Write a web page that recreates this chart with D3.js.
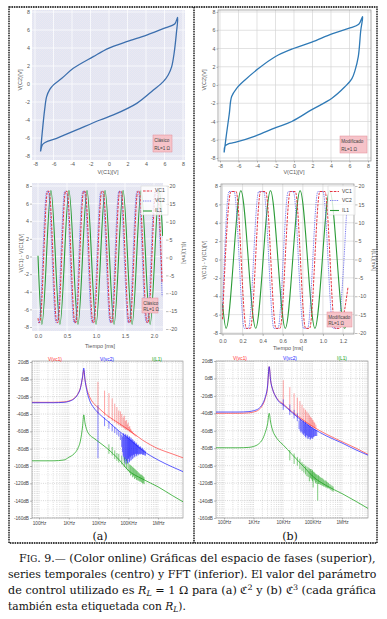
<!DOCTYPE html>
<html><head><meta charset="utf-8">
<script src="https://cdn.jsdelivr.net/npm/d3@7"></script>
<style>html,body{margin:0;padding:0;background:#fff}svg{display:block}</style>
</head><body>
<svg id="c" width="387" height="619"></svg>
<script>
// ================= DATA =================
const phaseTicks = [-8,-6,-4,-2,0,2,4,6,8];
const currTicks = [-20,-15,-10,-5,0,5,10,15,20];
const timeTicksA = [0,0.5,1.0,1.5,2.0];
const timeTicksB = [0,0.2,0.4,0.6,0.8,1.0,1.2];
const dbTicks = [20,0,-20,-40,-60,-80,-100,-120,-140,-160];
const dbMinor = [10,-10,-30,-50,-70,-90,-110,-130,-150];
const freqTicks = [100,1000,10000,100000,1000000];
const freqLabels = ['100Hz','1KHz','10KHz','100KHz','1MHz'];
const fftSeriesNames = ['V(vc1)','V(vc2)','I(L1)'];
const tsSeriesNames = ['VC1','VC2','IL1'];

// phase space (a) Clásico : V(C1) on x, V(C2) on y
const phaseA_vc1 = [-7.4,-7.2,-6.95,-6.74,-6.4,-6.0,-5.1,-3.86,-1.7,-0.07,1.9,4.07,6.0,7.1,7.42,7.28,7.05,6.77,6.4,5.87,4.8,3.0,0.47,-0.97,-3.5,-5.66,-6.9,-7.2,-7.4];
const phaseA_vc2 = [-7.5,-5.2,-2.8,-1.4,-0.6,-0.1,0.63,1.74,3.04,3.96,4.7,5.44,6.2,6.67,7.4,5.6,3.5,1.9,1.0,0.26,-0.67,-2.15,-3.44,-4.0,-5.1,-6.04,-6.5,-6.75,-7.5];
// phase space (b) Modificado
const phaseB_vc1 = [-7.55,-7.3,-7.0,-6.74,-6.2,-5.3,-3.85,-2.04,-0.06,1.93,4.1,5.9,7.0,7.42,7.22,6.95,6.6,6.26,5.5,4.1,1.93,-0.24,-2.04,-4.2,-6.38,-7.1,-7.46,-7.55];
const phaseB_vc2 = [-7.4,-5.4,-3.2,-1.27,-0.36,0.55,1.8,3.1,4.0,4.7,5.6,6.2,6.65,7.5,6.0,3.1,1.6,0.7,-0.2,-1.45,-2.7,-4.0,-4.7,-5.6,-6.3,-6.45,-6.7,-7.4];

// time series (a): time [ms], volts / mA
const tsA_vc1_t = [0,0.015,0.03,0.166,0.19,0.326,0.341,0.477,0.501,0.637,0.652,0.788,0.812,0.948,0.963,1.099,1.123,1.259,1.274,1.41,1.434,1.57,1.585,1.721,1.745,1.881,1.896,2.032,2.056,2.14];
const tsA_vc1_v = [-7.0,-7.5,-7.5,7.4,7.4,-7.5,-7.5,7.4,7.4,-7.5,-7.5,7.4,7.4,-7.5,-7.5,7.4,7.4,-7.5,-7.5,7.4,7.4,-7.5,-7.5,7.4,7.4,-7.5,-7.5,7.4,7.4,-3.0];
const tsA_vc2_t = [0,0.015,0.151,0.175,0.311,0.326,0.462,0.486,0.622,0.637,0.773,0.797,0.933,0.948,1.084,1.108,1.244,1.259,1.395,1.419,1.555,1.57,1.706,1.73,1.866,1.881,2.017,2.041,2.14];
const tsA_vc2_v = [-7.5,-7.5,7.4,7.4,-7.5,-7.5,7.4,7.4,-7.5,-7.5,7.4,7.4,-7.5,-7.5,7.4,7.4,-7.5,-7.5,7.4,7.4,-7.5,-7.5,7.4,7.4,-7.5,-7.5,7.4,7.4,-4.5];
const tsA_il_t = [0,0.0675,0.223,0.3785,0.534,0.6895,0.845,1.0005,1.156,1.3115,1.467,1.6225,1.778,1.9335,2.089,2.15];
const tsA_il_v = [0.5,-18.7,18.7,-18.7,18.7,-18.7,18.7,-18.7,18.7,-18.7,18.7,-18.7,18.7,-18.7,18.7,6];
// time series (b)
const tsB_vc1_t = [0,0.085,0.135,0.2375,0.2775,0.38,0.43,0.5325,0.5725,0.675,0.725,0.8275,0.8675,0.97,1.02,1.1225,1.1625,1.25];
const tsB_vc1_v = [-6.5,7.4,7.4,-7.5,-7.5,7.4,7.4,-7.5,-7.5,7.4,7.4,-7.5,-7.5,7.4,7.4,-7.5,-7.5,-3.0];
const tsB_vc2_t = [0,0.065,0.115,0.2175,0.2575,0.36,0.41,0.5125,0.5525,0.655,0.705,0.8075,0.8475,0.95,1.0,1.1025,1.1425,1.235];
const tsB_vc2_v = [-5.5,7.4,7.4,-7.5,-7.5,7.4,7.4,-7.5,-7.5,7.4,7.4,-7.5,-7.5,7.4,7.4,-7.5,-7.5,5.0];
const tsB_il_t = [0,0.0355,0.183,0.3305,0.478,0.6255,0.773,0.9205,1.068,1.2155,1.25];
const tsB_il_v = [-12,-18.7,18.7,-18.7,18.7,-18.7,18.7,-18.7,18.7,-18.7,-16];

// FFT (a): frequency [Hz], level [dB]
const fftA_f = [55,300,700,1000,1500,2000,2500,2900,3200,3500,4000,5000,7000,10000,20000,50000,100000,300000,1000000,3000000,7500000];
const fftA_vc1 = [-26.5,-26.5,-26,-25,-22,-17,-9,2,10.5,0,-10,-20,-28,-33,-42,-51,-58,-70,-80,-86,-91];
const fftA_vc2 = [-27,-27,-26.5,-25.5,-22.5,-17.5,-9.5,3,13,0,-12,-24,-33,-39,-48,-60,-68,-82,-93,-101,-107];
const fftA_il  = [-94,-94,-93,-90,-86,-80,-70,-55,-41,-50,-58,-64,-68,-72,-80,-93,-105,-115,-124,-134,-142];
const spkA_vc1_f   = [9600,16000,22400,28800,35200,41600,48000,54400,60800,67200,73600,80000,86400,92800,99200,105600,112000,118400,124800,131200,140000,150000,165000,180000];
const spkA_vc1_top = [-3,-13,-16,-22,-28,-32,-36,-37,-40,-44,-42,-48,-47,-52,-50,-55,-54,-57,-58,-60,-60,-62,-63,-64];
const spkA_vc1_bot = [-40,-42,-45,-48,-50,-52,-53,-54,-55,-56,-57,-58,-58,-59,-59,-60,-61,-61,-62,-62,-63,-64,-65,-66];
const spkA_vc2_f   = [9600,16000,22400,28800,35200,41600,48000,54400,60000,64000,67000,70000,73000,76000,80000,83000,86000,90000,93000,96000,100000,103000,107000,110000,114000,118000,122000,126000,130000,135000,140000,145000,150000,155000,160000,166000,172000,178000,184000,190000,197000,205000,212000,220000,230000,240000,250000,260000,272000,285000,297000,310000,325000,340000,360000,380000];
const spkA_vc2_top = [-30,-44,-48,-52,-55,-58,-60,-62,-64,-66,-63,-62,-65,-66,-63,-64,-66,-67,-64,-65,-67,-68,-66,-66,-69,-70,-67,-68,-70,-72,-69,-70,-72,-73,-71,-72,-74,-75,-73,-74,-76,-76,-75,-76,-78,-78,-77,-78,-79,-80,-79,-80,-81,-82,-82,-83];
const spkA_vc2_bot = [-91,-54,-57,-60,-62,-64,-66,-70,-78,-84,-88,-90,-93,-96,-92,-98,-94,-94,-97,-97,-91,-92,-96,-95,-89,-90,-94,-93,-88,-88,-92,-91,-87,-87,-90,-89,-86,-86,-89,-88,-86,-86,-88,-87,-86,-86,-87,-86,-86,-86,-87,-87,-87,-87,-88,-88];
const spkA_il_f   = [22400,28800,35200,41600,48000,60800,73600,86400,99200,112000,120000,130000,140000,150000,162000,175000,188000,200000,215000,230000,245000,260000,280000,300000,320000,340000];
const spkA_il_top = [-75,-78,-82,-85,-86,-88,-90,-92,-96,-98,-99,-100,-101,-102,-103,-104,-105,-106,-107,-108,-109,-110,-110,-111,-112,-113];
const spkA_il_bot = [-86,-88,-92,-94,-96,-98,-101,-103,-106,-108,-111,-110,-113,-112,-115,-114,-116,-116,-117,-117,-118,-118,-119,-120,-120,-121];
// FFT (b)
const fftB_f = [50,300,700,1000,1500,2000,2500,3000,3400,3800,4500,5500,7000,10000,20000,50000,100000,300000,1000000,3000000,7600000];
const fftB_vc1 = [-40,-40,-39.5,-38.5,-36,-31,-23,-10,13.5,-2,-13,-20,-25,-29,-38,-48,-55,-64,-72.5,-80,-87];
const fftB_vc2 = [-38.5,-38.5,-38,-37,-34.5,-29.5,-21.5,-8.5,13.5,-2,-13,-20,-26,-30,-39,-50,-57,-66,-74,-82,-88];
const fftB_il  = [-79.5,-79.5,-79,-78,-75,-70,-62,-52,-40,-50,-60,-66,-71,-76,-87,-101,-112,-123,-132,-141,-149];
const spkB_vc1_f   = [10200,17000,23800,30600,37400,44200,51000,57800,64600,71400,78200,85000,91800,98600,105400,112200,119000,130000];
const spkB_vc1_top = [-2,-10,-17,-22,-26,-30,-34,-36,-38,-40,-42,-44,-45,-47,-48,-50,-51,-53];
const spkB_vc1_bot = [-32,-38,-42,-45,-47,-49,-50,-51,-52,-53,-54,-55,-55,-56,-56,-57,-57,-58];
const spkB_vc2_f   = [10200,17000,23800,30600,35000,38000,40000,43000,45000,48000,50000,53000,55000,58000,60000,63000,66000,69000,72000,75000,79000,82000,86000,90000,94000,98000,103000,108000,113000,119000,125000,132000,140000];
const spkB_vc2_top = [-24,-30,-36,-40,-48,-46,-47,-49,-50,-48,-49,-51,-52,-50,-51,-53,-54,-52,-53,-54,-55,-54,-55,-56,-57,-56,-57,-58,-58,-58,-59,-59,-60];
const spkB_vc2_bot = [-36,-42,-46,-49,-58,-60,-62,-61,-63,-64,-65,-63,-66,-67,-68,-65,-66,-69,-69,-67,-67,-70,-70,-68,-68,-69,-69,-67,-67,-66,-66,-66,-66];
const spkB_il_f   = [17000,23800,30600,37400,44200,51000,57800,64600,71400,78200,85000,90000,95000,100000,105000,111000,118000,125000,132000,140000,150000,160000,170000,182000,195000,210000,225000,240000,260000,280000,300000,325000,350000,385000,420000,460000,500000];
const spkB_il_top = [-82,-86,-90,-92,-96,-98,-100,-101,-102,-103,-104,-104,-106,-105,-107,-107,-108,-109,-110,-110,-111,-111,-112,-113,-114,-114,-115,-116,-117,-117,-118,-119,-120,-121,-122,-123,-124];
const spkB_il_bot = [-94,-98,-100,-104,-106,-108,-110,-112,-113,-118,-114,-115,-116,-118,-125,-116,-117,-120,-119,-121,-140,-121,-121,-122,-122,-123,-123,-124,-124,-125,-125,-126,-126,-127,-128,-129,-130];

// ================= DRAWING =================
const SANS = "'Liberation Sans', Arial, sans-serif";
const SERIF = "'DejaVu Serif', 'Liberation Serif', serif";
const svg = d3.select('#c');
const defs = svg.append('defs');
const pat = defs.append('pattern').attr('id','hatch').attr('width',2).attr('height',2).attr('patternUnits','userSpaceOnUse');
pat.append('rect').attr('width',2).attr('height',2).attr('fill','#dfe6f4');
pat.append('rect').attr('width',1).attr('height',1).attr('fill','#ece7f0');
pat.append('rect').attr('x',1).attr('y',1).attr('width',1).attr('height',1).attr('fill','#ece7f0');

let clipN = 0;
function clip(box) {
  const id = 'clip' + (clipN++);
  defs.append('clipPath').attr('id', id).append('rect')
    .attr('x', box[0]).attr('y', box[1]).attr('width', box[2]-box[0]).attr('height', box[3]-box[1]);
  return 'url(#' + id + ')';
}
function axisStyle(sel, fs, col) {
  sel.attr('font-family', SANS).attr('font-size', fs);
  sel.select('.domain').remove();
  sel.selectAll('.tick line').attr('stroke', '#777').attr('stroke-width', 0.5);
  sel.selectAll('.tick text').attr('fill', col || '#555');
}
function label(g, x, y, txt, rot, fs, col) {
  g.append('text').attr('transform', `translate(${x},${y}) rotate(${rot||0})`)
    .attr('text-anchor','middle').attr('dominant-baseline','middle')
    .attr('font-family', SANS).attr('font-size', fs||5.5).attr('fill', col||'#555').text(txt);
}
function tagBox(g, b) {
  g.append('rect').attr('x',b[0]).attr('y',b[1]).attr('width',b[2]-b[0]).attr('height',b[3]-b[1])
    .attr('fill','#f6c3c9').attr('stroke','#e38d98').attr('stroke-width',0.5);
  const h = b[3]-b[1];
  g.append('text').attr('x',b[0]+1.2).attr('y',b[1]+h*0.44).attr('font-family',SANS).attr('font-size',4.6).attr('fill','#444').text(b[4]);
  g.append('text').attr('x',b[0]+1.2).attr('y',b[1]+h*0.86).attr('font-family',SANS).attr('font-size',4.6).attr('fill','#444').text('RL=1 Ω');
}

function phasePanel(o) {
  const g = svg.append('g');
  const [bx0,by0,bx1,by1] = o.box;
  const x = d3.scaleLinear().domain([-8,8]).range(o.xr);
  const y = d3.scaleLinear().domain([-8,8]).range(o.yr);
  g.append('rect').attr('x',bx0).attr('y',by0).attr('width',bx1-bx0).attr('height',by1-by0)
    .attr('fill', o.hatch ? 'url(#hatch)' : '#fff');
  const gc = o.hatch ? '#ffffff' : '#d6d6d6';
  g.append('g').selectAll('line').data(phaseTicks).join('line')
    .attr('x1',d=>x(d)).attr('x2',d=>x(d)).attr('y1',by0).attr('y2',by1).attr('stroke',gc).attr('stroke-width',0.7);
  g.append('g').selectAll('line').data(phaseTicks).join('line')
    .attr('y1',d=>y(d)).attr('y2',d=>y(d)).attr('x1',bx0).attr('x2',bx1).attr('stroke',gc).attr('stroke-width',0.7);
  if (!o.hatch) g.append('rect').attr('x',bx0).attr('y',by0).attr('width',bx1-bx0).attr('height',by1-by0)
    .attr('fill','none').attr('stroke','#8a8a8a').attr('stroke-width',0.7);
  const ay = g.append('g').attr('transform',`translate(${bx0},0)`)
    .call(d3.axisLeft(y).tickValues(phaseTicks).tickFormat(d=>String(d)).tickSize(o.tick).tickPadding(o.pad));
  axisStyle(ay, 5.3);
  const axb = g.append('g').attr('transform',`translate(0,${by1})`)
    .call(d3.axisBottom(x).tickValues(phaseTicks).tickFormat(d=>String(d)).tickSize(o.tick).tickPadding(o.padB));
  axisStyle(axb, 5.3);
  g.append('path').attr('clip-path', clip(o.box))
    .attr('d', d3.line().x(d=>x(d[0])).y(d=>y(d[1])).curve(d3.curveCatmullRom.alpha(0.5))(d3.zip(o.vc1,o.vc2)))
    .attr('fill','none').attr('stroke',o.color).attr('stroke-width',1.3);
  label(g, o.ylab[0], o.ylab[1], 'V(C2)[V]', -90, 5.5);
  label(g, o.xlab[0], o.xlab[1], 'V(C1)[V]', 0, 5.5);
  tagBox(g, o.tag);
}

function timePanel(o) {
  const g = svg.append('g');
  const [bx0,by0,bx1,by1] = o.box;
  const x = d3.scaleLinear().domain([0, o.xt[o.xt.length-1]]).range(o.xr);
  const yl = d3.scaleLinear().domain([-8,8]).range(o.ylr);
  const yr = d3.scaleLinear().domain([-20,20]).range(o.yrr);
  g.append('rect').attr('x',bx0).attr('y',by0).attr('width',bx1-bx0).attr('height',by1-by0)
    .attr('fill', o.hatch ? 'url(#hatch)' : '#fff');
  const gc = o.hatch ? '#ffffff' : '#d6d6d6';
  g.append('g').selectAll('line').data(o.xt).join('line')
    .attr('x1',d=>x(d)).attr('x2',d=>x(d)).attr('y1',by0).attr('y2',by1).attr('stroke',gc).attr('stroke-width',0.7);
  g.append('g').selectAll('line').data(phaseTicks).join('line')
    .attr('y1',d=>yl(d)).attr('y2',d=>yl(d)).attr('x1',bx0).attr('x2',bx1).attr('stroke',gc).attr('stroke-width',0.7);
  if (!o.hatch) g.append('rect').attr('x',bx0).attr('y',by0).attr('width',bx1-bx0).attr('height',by1-by0)
    .attr('fill','none').attr('stroke','#8a8a8a').attr('stroke-width',0.7);
  const al = g.append('g').attr('transform',`translate(${bx0},0)`)
    .call(d3.axisLeft(yl).tickValues(phaseTicks).tickFormat(d=>String(d)).tickSize(2).tickPadding(1));
  axisStyle(al, 5.3);
  const ar = g.append('g').attr('transform',`translate(${o.rAxisX},0)`)
    .call(d3.axisRight(yr).tickValues(currTicks).tickFormat(d=>String(d)).tickSize(2.5).tickPadding(1));
  axisStyle(ar, 5.3);
  const ab = g.append('g').attr('transform',`translate(0,${by1})`)
    .call(d3.axisBottom(x).tickValues(o.xt).tickFormat(d3.format('.1f')).tickSize(o.btick).tickPadding(o.bpad));
  axisStyle(ab, 5.3);
  const cp = clip(o.box);
  const lv = d3.line().x(d=>x(d[0])).y(d=>yl(d[1])).curve(d3.curveMonotoneX);
  const li = d3.line().x(d=>x(d[0])).y(d=>yr(d[1])).curve(d3.curveMonotoneX);
  g.append('path').attr('clip-path',cp).attr('d', li(d3.zip(o.ilT,o.ilV)))
    .attr('fill','none').attr('stroke','#2c9c38').attr('stroke-width',1.1);
  g.append('path').attr('clip-path',cp).attr('d', lv(d3.zip(o.v2T,o.v2V)))
    .attr('fill','none').attr('stroke','#5b5bea').attr('stroke-width',0.9).attr('stroke-dasharray','0.9,0.9');
  g.append('path').attr('clip-path',cp).attr('d', lv(d3.zip(o.v1T,o.v1V)))
    .attr('fill','none').attr('stroke','#e2202c').attr('stroke-width',0.9).attr('stroke-dasharray','2.6,1.2');
  // legend
  const L = o.leg;
  g.append('rect').attr('x',L[0]).attr('y',L[1]).attr('width',L[2]-L[0]).attr('height',L[3]-L[1])
    .attr('fill','#fff').attr('fill-opacity',0.8).attr('stroke','#cfcfcf').attr('stroke-width',0.5);
  const styles = [['#e2202c','2.6,1.2',0.9],['#5b5bea','0.9,0.9',0.9],['#2c9c38',null,1.1]];
  tsSeriesNames.forEach((nm,i) => {
    const yy = L[4][i];
    const ln = g.append('line').attr('x1',L[0]+2).attr('x2',L[0]+11).attr('y1',yy).attr('y2',yy)
      .attr('stroke',styles[i][0]).attr('stroke-width',styles[i][2]);
    if (styles[i][1]) ln.attr('stroke-dasharray',styles[i][1]);
    g.append('text').attr('x',L[0]+14).attr('y',yy).attr('dominant-baseline','middle')
      .attr('font-family',SANS).attr('font-size',5).attr('fill','#444').text(nm);
  });
  label(g, o.ylab[0], o.ylab[1], 'V(C1) - V(C1)[V]', -90, 5.3);
  label(g, o.rlab[0], o.rlab[1], 'I(L1)[mA]', 90, 5.3);
  label(g, o.xlab[0], o.xlab[1], 'Tiempo [ms]', 0, 5.5);
  tagBox(g, o.tag);
}

function fftPanel(o) {
  const g = svg.append('g');
  const [bx0,by0,bx1,by1] = o.box;
  const x = d3.scaleLog().domain([100,1e6]).range(o.xr);
  const y = d3.scaleLinear().domain([-160,20]).range(o.yr);
  g.append('rect').attr('x',bx0).attr('y',by0).attr('width',bx1-bx0).attr('height',by1-by0).attr('fill','#fff');
  const minors = [];
  [10,100,1000,10000,100000,1000000].forEach(dec => { for (let k=1;k<10;k++) minors.push(dec*k); });
  const fx0 = x.invert(bx0), fx1 = x.invert(bx1);
  g.append('g').selectAll('line').data(minors.filter(f=>f>fx0 && f<fx1)).join('line')
    .attr('x1',d=>x(d)).attr('x2',d=>x(d)).attr('y1',by0).attr('y2',by1)
    .attr('stroke','#b4b4b4').attr('stroke-width',0.5).attr('stroke-dasharray','1,1.2');
  g.append('g').selectAll('line').data(dbMinor).join('line')
    .attr('y1',d=>y(d)).attr('y2',d=>y(d)).attr('x1',bx0).attr('x2',bx1)
    .attr('stroke','#cfcfcf').attr('stroke-width',0.4).attr('stroke-dasharray','0.8,1.6');
  g.append('g').selectAll('line').data(dbTicks).join('line')
    .attr('y1',d=>y(d)).attr('y2',d=>y(d)).attr('x1',bx0).attr('x2',bx1)
    .attr('stroke','#b0b0b0').attr('stroke-width',0.5).attr('stroke-dasharray','1,1.2');
  g.append('rect').attr('x',bx0).attr('y',by0).attr('width',bx1-bx0).attr('height',by1-by0)
    .attr('fill','none').attr('stroke','#8a8a8a').attr('stroke-width',0.6);
  const ay = g.append('g').attr('transform',`translate(${bx0},0)`)
    .call(d3.axisLeft(y).tickValues(dbTicks).tickFormat(d=>d+'dB').tickSize(2).tickPadding(1));
  axisStyle(ay, 4.7, '#444');
  const axb = g.append('g').attr('transform',`translate(0,${by1})`)
    .call(d3.axisBottom(x).tickValues(freqTicks).tickFormat((d,i)=>freqLabels[i]).tickSize(1.5).tickPadding(o.bpad));
  axisStyle(axb, 4.7, '#444');
  const cp = clip(o.box);
  const ln = d3.line().x(d=>x(d[0])).y(d=>y(d[1])).curve(d3.curveMonotoneX);
  const cols = ['#ff2a2a','#2020ff','#12a012'];
  o.series.forEach((s,i) => {
    g.append('path').attr('clip-path',cp).attr('d', ln(d3.zip(o.f, s.db)))
      .attr('fill','none').attr('stroke',cols[i]).attr('stroke-width',0.8).attr('stroke-opacity', i===0?0.8:0.9);
    g.append('g').attr('clip-path',cp).selectAll('line').data(d3.zip(s.sf, s.st, s.sb)).join('line')
      .attr('x1',d=>x(d[0])).attr('x2',d=>x(d[0])).attr('y1',d=>y(d[1])).attr('y2',d=>y(d[2]))
      .attr('stroke',cols[i]).attr('stroke-width',0.6).attr('stroke-opacity', i===0?0.7:0.9);
  });
  fftSeriesNames.forEach((nm,i) => {
    g.append('text').attr('x',o.tl[i]).attr('y',o.tlY).attr('text-anchor','middle')
      .attr('font-family',SANS).attr('font-size',4.8).attr('fill',cols[i]).text(nm);
  });
}

// ---- outer frame ----
const frame = svg.append('g').attr('fill','none').attr('stroke','#000').attr('stroke-width',1.3).attr('stroke-dasharray','1.6,0.8');
frame.append('rect').attr('x',9).attr('y',7).attr('width',368).attr('height',536);
frame.append('line').attr('x1',194).attr('x2',194).attr('y1',7).attr('y2',543);

// ---- panels ----
phasePanel({box:[32,10,185,160], xr:[35,183], yr:[156,12], hatch:true, tick:0, pad:2, padB:2.5,
  vc1:phaseA_vc1, vc2:phaseA_vc2, color:'#3c6fae', ylab:[21,80], xlab:[108,173],
  tag:[153,135,172,152,'Clásico']});
phasePanel({box:[218,10,371,161], xr:[220,368], yr:[158,12], hatch:false, tick:1.5, pad:1, padB:1.5,
  vc1:phaseB_vc1, vc2:phaseB_vc2, color:'#2f7ab6', ylab:[205,80], xlab:[294,173],
  tag:[340,136,367,153,'Modificado']});

timePanel({box:[32,183,163,331], xt:timeTicksA, xr:[38,154], ylr:[327,186], yrr:[329,186], hatch:true,
  rAxisX:166, btick:0, bpad:3.5,
  v1T:tsA_vc1_t, v1V:tsA_vc1_v, v2T:tsA_vc2_t, v2V:tsA_vc2_v, ilT:tsA_il_t, ilV:tsA_il_v,
  leg:[141,186,168,215,[191,201,211]], ylab:[22,253], rlab:[183,253], xlab:[100,347],
  tag:[142,298,158,313,'Clásico']});
timePanel({box:[221,184,354,334], xt:timeTicksB, xr:[222.5,343], ylr:[333,186], yrr:[333,186], hatch:false,
  rAxisX:355, btick:2, bpad:3.5,
  v1T:tsB_vc1_t, v1V:tsB_vc1_v, v2T:tsB_vc2_t, v2V:tsB_vc2_v, ilT:tsB_il_t, ilV:tsB_il_v,
  leg:[328,186,355,215,[191.5,200.5,210.5]], ylab:[205,260], rlab:[373,260], xlab:[288,349],
  tag:[327,312,352,327,'Modificado']});

fftPanel({box:[32,361,183,518], xr:[39,158], yr:[518,362], bpad:2.5, tl:[55,107,157], tlY:360.5,
  f:fftA_f, series:[
    {db:fftA_vc1, sf:spkA_vc1_f, st:spkA_vc1_top, sb:spkA_vc1_bot},
    {db:fftA_vc2, sf:spkA_vc2_f, st:spkA_vc2_top, sb:spkA_vc2_bot},
    {db:fftA_il,  sf:spkA_il_f,  st:spkA_il_top,  sb:spkA_il_bot}]});
fftPanel({box:[216,361,368,518], xr:[224,342], yr:[518,361], bpad:1, tl:[240,290,342], tlY:360,
  f:fftB_f, series:[
    {db:fftB_vc1, sf:spkB_vc1_f, st:spkB_vc1_top, sb:spkB_vc1_bot},
    {db:fftB_vc2, sf:spkB_vc2_f, st:spkB_vc2_top, sb:spkB_vc2_bot},
    {db:fftB_il,  sf:spkB_il_f,  st:spkB_il_top,  sb:spkB_il_bot}]});

// ---- sub-figure letters ----
svg.append('text').attr('x',100).attr('y',540).attr('text-anchor','middle').attr('font-family',SERIF).attr('font-size',11).attr('fill','#111').text('(a)');
svg.append('text').attr('x',290).attr('y',540).attr('text-anchor','middle').attr('font-family',SERIF).attr('font-size',11).attr('fill','#111').text('(b)');

// ---- caption ----
function capLine(x0, x1, y, build) {
  const t = svg.append('text').attr('font-family', SERIF).attr('font-size', 10.5).attr('fill','#111').attr('x',0).attr('y',0);
  build(t);
  const w = t.node().getComputedTextLength();
  t.attr('transform', `translate(${x0},${y}) scale(${(x1-x0)/w},1)`);
}
function RL(t, after) {
  t.append('tspan').attr('font-style','italic').text('R');
  t.append('tspan').attr('font-style','italic').attr('font-size',7.5).attr('dy',2).text('L');
  t.append('tspan').attr('dy',-2).text(after);
}
capLine(19, 376, 562, t => {
  t.append('tspan').text('F');
  t.append('tspan').attr('font-size',8.3).text('IG');
  t.append('tspan').text('. 9.— (Color online) Gráficas del espacio de fases (superior),');
});
capLine(8, 377, 577.5, t => {
  t.append('tspan').text('series temporales (centro) y FFT (inferior). El valor del parámetro');
});
capLine(8, 377, 593.5, t => {
  t.append('tspan').text('de control utilizado es ');
  RL(t, ' = 1 Ω para (a) ');
  t.append('tspan').text('ℭ');
  t.append('tspan').attr('font-size',7.5).attr('dy',-4).text('2');
  t.append('tspan').attr('dy',4).text(' y (b) ');
  t.append('tspan').text('ℭ');
  t.append('tspan').attr('font-size',7.5).attr('dy',-4).text('3');
  t.append('tspan').attr('dy',4).text(' (cada gráfica');
});
capLine(8, 186, 609.5, t => {
  t.append('tspan').text('también esta etiquetada con ');
  RL(t, ').');
});
</script>
</body></html>
